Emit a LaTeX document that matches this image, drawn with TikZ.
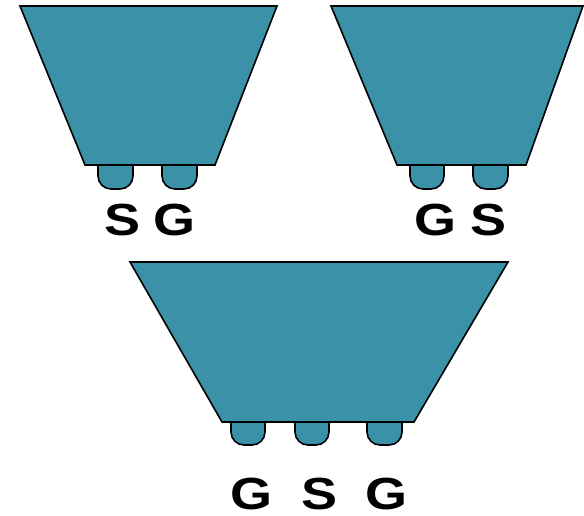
\documentclass[tikz,border=0pt]{standalone}
\usepackage{fontspec}
\setmainfont{Liberation Sans}
\definecolor{teal1}{RGB}{58,145,168}
\newcommand{\wlbl}[1]{\scalebox{1.2}[1]{#1}}
\tikzset{
  body/.style={fill=teal1, draw=black, line width=1.6pt, line join=miter},
  pad/.style={fill=teal1, draw=black, line width=1.6pt, rounded corners=13pt},
  lbl/.style={anchor=base, inner sep=0pt, font=\fontsize{45}{45}\selectfont\bfseries},
}
\begin{document}
\begin{tikzpicture}[x=1pt,y=-1pt]
\useasboundingbox (0,0) rectangle (584,516);
% top-left device
\draw[pad] (98,155) -- (98,189) -- (133,189) -- (133,155);
\draw[pad] (162,155) -- (162,189) -- (197,189) -- (197,155);
\draw[body] (20,6) -- (277,6) -- (215,165) -- (85,165) -- cycle;
\node[lbl] (s1) at (123,235) {\wlbl{S}};
\node[lbl] (g1) at (175,235) {\wlbl{G}};
% top-right device
\draw[pad] (410,155) -- (410,189) -- (444,189) -- (444,155);
\draw[pad] (473,155) -- (473,189) -- (508,189) -- (508,155);
\draw[body] (331,6) -- (583,6) -- (526,165) -- (397,165) -- cycle;
\node[lbl] (g2) at (435,235) {\wlbl{G}};
\node[lbl] (s2) at (489,235) {\wlbl{S}};
% bottom device
\draw[pad] (231,410) -- (231,445) -- (265,445) -- (265,410);
\draw[pad] (295,410) -- (295,445) -- (329,445) -- (329,410);
\draw[pad] (367,410) -- (367,445) -- (402,445) -- (402,410);
\draw[body] (130,262) -- (508,262) -- (414,422) -- (222,422) -- cycle;
\node[lbl] (g3) at (251,509) {\wlbl{G}};
\node[lbl] (s3) at (320,509) {\wlbl{S}};
\node[lbl] (g4) at (386,509) {\wlbl{G}};
\end{tikzpicture}
\end{document}
